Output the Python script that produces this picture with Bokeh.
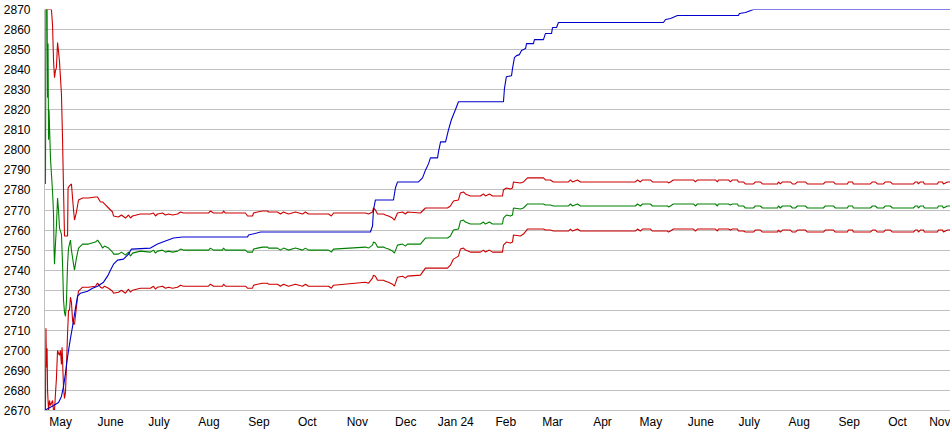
import pandas as pd
from bokeh.plotting import figure
from bokeh.models import FixedTicker, Range1d
from bokeh.embed import file_html
from bokeh.resources import INLINE

# ---------------- data (x = days since 2023-04-21) ----------------
START = "2023-04-21"
X_END_DAYS = 561.8

month_ticks = ["2023-05-01", "2023-06-01", "2023-07-01", "2023-08-01", "2023-09-01",
               "2023-10-01", "2023-11-01", "2023-12-01", "2024-01-01", "2024-02-01",
               "2024-03-01", "2024-04-01", "2024-05-01", "2024-06-01", "2024-07-01",
               "2024-08-01", "2024-09-01", "2024-10-01", "2024-11-01"]
month_labels = ["May", "June", "July", "Aug", "Sep", "Oct", "Nov", "Dec", "Jan 24", "Feb",
                "Mar", "Apr", "May", "June", "July", "Aug", "Sep", "Oct", "Nov"]
y_ticks = [2670, 2680, 2690, 2700, 2710, 2720, 2730, 2740, 2750, 2760, 2770,
           2780, 2790, 2800, 2810, 2820, 2830, 2840, 2850, 2860, 2870]

# rating (blue)
rating_days = [0, 5.6, 8.7, 10.5, 11.8, 13.0, 14.0, 14.9, 16.1, 17.4,
               19.2, 20.5, 22.3, 26.7, 29.8, 32.9, 36.6, 39.1, 40.9, 42.8,
               45.3, 49.0, 52.1, 53.9, 65.7, 70.1, 75.0, 80.0, 85.6, 125.9,
               126.5, 134.0, 202.1, 203.4, 204.0, 205.2, 216.4, 217.6, 218.9, 231.9,
               234.4, 236.3, 238.1, 239.3, 243.7, 244.3, 245.6, 248.7, 250.5, 252.3,
               254.8, 256.7, 284.6, 285.2, 286.4, 289.6, 290.2, 291.4, 292.7, 294.5,
               295.8, 298.3, 298.9, 303.2, 303.8, 309.4, 310.6, 314.4, 315.0, 317.5,
               318.7, 383.8, 385.1, 388.2, 392.5, 430.3, 430.9, 434.7, 439.6, 561.8]
rating_vals = [2670, 2672.5, 2674, 2677, 2682, 2688.5, 2695, 2700, 2706, 2712,
               2721, 2727, 2728.5, 2729.5, 2731, 2732, 2734, 2737, 2740, 2743,
               2745, 2745.5, 2748, 2750.5, 2751, 2753, 2754.5, 2756, 2756.5, 2756.5,
               2757.5, 2759, 2759, 2762, 2770, 2775, 2775, 2781, 2784, 2784,
               2786, 2790, 2793, 2796, 2796, 2799, 2804, 2804, 2810, 2815,
               2820, 2824, 2824, 2830.5, 2836.5, 2837, 2840.5, 2846, 2847, 2847.5,
               2849.5, 2850.5, 2853, 2853, 2855, 2855, 2858, 2858, 2861, 2861,
               2863.5, 2863.5, 2865, 2865.5, 2867, 2867, 2868, 2868.5, 2870, 2870]

# first weeks (each series separately)
early_upper_days = [0.6, 4.3, 5.0, 5.6, 6.2, 6.8, 7.4, 8.1, 8.7, 9.3,
                    9.9, 10.5, 11.2, 11.8, 12.4, 14.3, 14.6, 15.5, 16.7, 17.4,
                    18.0, 18.6, 19.8]
early_upper_vals = [2870, 2870, 2862, 2844.5, 2836, 2839.5, 2841, 2853.5, 2849, 2844,
                    2836, 2828, 2805, 2780, 2757, 2757, 2781, 2782, 2783, 2776,
                    2770, 2765, 2769]

early_mid_days = [0.6, 0.9, 1.6, 1.9, 2.2, 2.5, 2.8, 3.7, 4.3, 5.0,
                  5.6, 5.9, 6.2, 6.8, 7.4, 8.1, 8.7, 9.3, 10.5, 11.2,
                  11.8, 12.4, 13.0, 13.6, 14.3, 14.9, 16.1, 16.7, 18.0, 18.6,
                  19.8]
early_mid_vals = [2783, 2870, 2870, 2826, 2853, 2805, 2820, 2796, 2788, 2779,
                  2768, 2751, 2743, 2753, 2762, 2776, 2770, 2761, 2758, 2743,
                  2725, 2719, 2717, 2724, 2743, 2751, 2755, 2750, 2743, 2740,
                  2746]

early_lower_days = [0.6, 0.9, 1.2, 1.6, 1.9, 2.5, 3.1, 3.7, 5.0, 5.6,
                    6.2, 6.8, 7.4, 8.1, 8.7, 9.3, 9.9, 10.5, 10.9, 11.8,
                    12.4, 13.0, 13.6, 14.3, 14.9, 15.5, 16.1, 16.7, 17.4, 18.0,
                    18.6, 19.8, 20.5]
early_lower_vals = [2670, 2711, 2691.5, 2701, 2680, 2670, 2675, 2672.5, 2675, 2670,
                    2670, 2678.5, 2686, 2700, 2698.5, 2697.5, 2700, 2693, 2701.5, 2681.5,
                    2676, 2679, 2691.5, 2708.5, 2720, 2720, 2726.5, 2724, 2715, 2713,
                    2713, 2721.5, 2726.5]

# later part (common sampling for the three band series)
late_days = [21.1, 23.6, 27.3, 31.6, 32.9, 34.7, 36.0, 37.2, 39.7, 42.2,
             42.8, 45.9, 47.7, 50.2, 52.1, 53.3, 54.6, 59.5, 65.7, 67.6,
             68.8, 70.1, 73.2, 75.0, 76.9, 79.4, 82.5, 84.3, 86.2, 101.7,
             102.9, 104.8, 110.4, 111.0, 112.2, 124.6, 125.9, 129.0, 129.6, 132.1,
             135.2, 138.3, 138.9, 144.5, 146.3, 148.2, 151.3, 155.6, 160.0, 161.8,
             163.7, 176.1, 177.9, 179.2, 199.0, 200.9, 203.4, 204.0, 205.2, 206.5,
             210.2, 211.4, 213.3, 215.8, 217.0, 218.9, 222.0, 223.8, 225.1, 233.1,
             236.2, 249.9, 251.7, 253.6, 256.7, 257.9, 259.8, 261.0, 264.1, 270.3,
             272.2, 273.4, 275.9, 277.8, 284.0, 284.6, 286.4, 288.9, 290.2, 290.8,
             295.1, 297.0, 299.5, 309.4, 310.6, 313.7, 315.6, 324.9, 326.1, 327.4,
             330.5, 332.3, 366.4, 367.7, 369.5, 370.8, 375.7, 377.0, 386.3, 386.9,
             388.1, 390.0, 402.4, 403.6, 404.9, 416.0, 417.3, 417.9, 424.1, 425.3,
             426.6, 429.7, 430.3, 433.4, 434.6, 439.6, 440.8, 443.9, 445.2, 454.5,
             455.1, 456.3, 457.6, 462.5, 463.8, 465.6, 466.9, 471.8, 473.1, 483.0,
             484.2, 489.2, 490.4, 497.9, 498.5, 501.0, 501.6, 512.1, 513.4, 515.2,
             516.5, 520.2, 521.4, 524.5, 525.8, 538.8, 540.0, 541.3, 541.9, 543.1,
             545.0, 545.6, 553.7, 554.3, 556.8, 557.4, 559.9, 561.8]
late_mid_vals = [2751, 2753, 2753, 2754, 2755, 2753, 2751, 2752, 2751, 2749,
                 2748, 2748, 2749, 2747.5, 2749, 2747, 2748.5, 2749.5, 2749, 2750,
                 2748.5, 2749.5, 2750, 2749, 2749.5, 2749, 2749.5, 2750.5, 2750, 2750,
                 2751, 2750, 2750, 2751, 2750, 2750, 2749, 2749, 2750.5, 2751,
                 2751.5, 2751.5, 2751, 2751, 2750, 2751, 2750, 2751, 2750, 2751,
                 2750, 2750, 2749, 2750.5, 2751.5, 2751, 2752.5, 2754, 2753.5, 2751.5,
                 2751.5, 2751, 2750.5, 2749.5, 2748.5, 2752.5, 2753, 2752, 2753, 2753,
                 2756, 2756, 2757, 2760, 2760.5, 2764.5, 2765, 2764, 2763, 2763,
                 2764, 2763, 2764, 2763, 2763, 2766, 2767.5, 2767, 2767.5, 2771,
                 2770.5, 2771, 2773, 2773, 2772.5, 2772.5, 2772, 2772, 2773, 2772,
                 2773, 2772, 2772, 2773, 2772, 2773, 2773, 2772, 2772, 2771.5,
                 2772, 2773, 2773, 2772, 2773, 2773, 2772, 2773, 2773, 2772.5,
                 2773, 2773, 2772, 2772, 2771, 2771, 2772, 2772, 2771, 2771,
                 2772, 2771, 2772, 2772, 2771, 2771, 2772, 2772, 2771, 2771,
                 2772, 2772, 2771, 2771, 2772, 2772, 2771, 2771, 2772, 2772,
                 2771, 2771, 2772, 2772, 2771, 2771, 2772, 2772, 2771, 2772,
                 2772, 2771, 2771, 2772, 2772, 2771, 2772, 2772]
late_upper_vals = [2775, 2776, 2776, 2776.5, 2776.5, 2774, 2774, 2773, 2771, 2769,
                   2767, 2766.5, 2767.5, 2766, 2767.5, 2766, 2767, 2768, 2768, 2768.5,
                   2767, 2768, 2768.5, 2767.5, 2768, 2767.5, 2768, 2769, 2768.5, 2768.5,
                   2769.5, 2768.5, 2768.5, 2769.5, 2768.5, 2768.5, 2767, 2767, 2768.5, 2769,
                   2769.5, 2769.5, 2769, 2769, 2768, 2769, 2768, 2769, 2768, 2769,
                   2768, 2768, 2767, 2768.5, 2768.5, 2768, 2769, 2771, 2770, 2768,
                   2768, 2767.5, 2767, 2766, 2765, 2768.5, 2769, 2768, 2769, 2768.5,
                   2771, 2771, 2772, 2774.5, 2775, 2778.5, 2779, 2778, 2777, 2777,
                   2778, 2777, 2778, 2777, 2777, 2780, 2781, 2780.5, 2781, 2784,
                   2783.5, 2784, 2786, 2786, 2785, 2785, 2784, 2784, 2785, 2784,
                   2785, 2784, 2784, 2785, 2784, 2785, 2785, 2784, 2784, 2783.5,
                   2784, 2785, 2785, 2784, 2785, 2785, 2784, 2785, 2785, 2784,
                   2785, 2785, 2784, 2784, 2783, 2783, 2784, 2784, 2783, 2783,
                   2784, 2783, 2784, 2784, 2783, 2783, 2784, 2784, 2783, 2783,
                   2784, 2784, 2783, 2783, 2784, 2784, 2783, 2783, 2784, 2784,
                   2783, 2783, 2784, 2784, 2783, 2783, 2784, 2784, 2783, 2784,
                   2784, 2783, 2783, 2784, 2784, 2783, 2784, 2784]
late_lower_vals = [2729.5, 2731.5, 2731.5, 2732, 2733.5, 2731.5, 2731, 2732, 2731, 2729.5,
                   2728.5, 2729, 2730, 2728.5, 2730.5, 2729, 2730, 2731, 2731, 2732,
                   2730.5, 2731.5, 2732, 2731, 2731.5, 2731, 2731.5, 2732.5, 2732, 2732,
                   2733, 2732, 2732, 2733, 2732, 2732, 2731, 2731, 2732.5, 2733,
                   2733.5, 2733.5, 2733, 2733, 2732, 2733, 2732, 2733, 2732, 2733,
                   2732, 2732, 2731, 2732.5, 2734, 2733.5, 2736, 2737.5, 2737, 2735,
                   2735, 2734.5, 2734, 2733, 2732, 2736.5, 2737, 2736, 2737, 2737.5,
                   2741, 2741, 2742.5, 2745.5, 2747, 2750.5, 2751, 2750, 2749, 2749,
                   2750, 2749, 2750, 2749, 2749, 2752.5, 2754, 2753.5, 2754, 2757.5,
                   2757, 2758, 2760.5, 2760.5, 2760, 2760, 2759.5, 2759.5, 2760.5, 2759.5,
                   2760.5, 2759.5, 2759.5, 2760.5, 2759.5, 2760.5, 2760.5, 2759.5, 2759.5, 2759,
                   2759.5, 2760.5, 2760.5, 2759.5, 2760.5, 2760.5, 2759.5, 2760.5, 2760.5, 2760,
                   2760.5, 2760.5, 2759.5, 2759.5, 2759, 2759, 2760, 2760, 2759, 2759,
                   2760, 2759, 2760, 2760, 2759, 2759, 2760, 2760, 2759, 2759,
                   2760, 2760, 2759, 2759, 2760, 2760, 2759, 2759, 2760, 2760,
                   2759, 2759, 2760, 2760, 2759, 2759, 2760, 2760, 2759, 2760,
                   2760, 2759, 2759, 2760, 2760, 2759, 2760, 2760]


def to_time(days):
    return (pd.Timestamp(START) + pd.to_timedelta(list(days), unit="D")).to_numpy()


def ms(date_str):
    return int(pd.Timestamp(date_str).value // 10**6)


GRID = "#c0c0c0"
RED = "#cc0000"
GREEN = "#008000"
BLUE = "#0000cc"
FONT = "Liberation Sans"

p = figure(width=950, height=435, x_axis_type="datetime",
           output_backend="svg", toolbar_location=None,
           x_range=Range1d(pd.Timestamp(START), pd.Timestamp(START) + pd.Timedelta(days=X_END_DAYS)),
           y_range=Range1d(y_ticks[0], y_ticks[-1]),
           min_border_left=44, min_border_right=0, min_border_top=9, min_border_bottom=25)

p.background_fill_color = "white"
p.border_fill_color = "white"
p.outline_line_color = None

tick_ms = [ms(d) for d in month_ticks]
p.xaxis.ticker = FixedTicker(ticks=tick_ms)
p.xaxis.major_label_overrides = {t: lab for t, lab in zip(tick_ms, month_labels)}
p.yaxis.ticker = FixedTicker(ticks=y_ticks)
p.xgrid.visible = False
p.ygrid.grid_line_color = GRID
p.ygrid.grid_line_width = 1

for ax in (p.xaxis, p.yaxis):
    ax.axis_line_color = GRID
    ax.major_tick_line_color = None
    ax.minor_tick_line_color = None
    ax.major_tick_out = 0
    ax.major_tick_in = 0
    ax.minor_tick_out = 0
    ax.minor_tick_in = 0
    ax.major_label_text_font = FONT
    ax.major_label_text_font_size = "12px"
    ax.major_label_text_color = "#000000"
p.yaxis.major_label_standoff = 14
p.xaxis.major_label_standoff = 4

up_x = to_time(early_upper_days + late_days)
mid_x = to_time(early_mid_days + late_days)
lo_x = to_time(early_lower_days + late_days)

p.line(up_x, early_upper_vals + late_upper_vals, line_color=RED, line_width=1.1)
p.line(lo_x, early_lower_vals + late_lower_vals, line_color=RED, line_width=1.1)
p.line(mid_x, early_mid_vals + late_mid_vals, line_color=GREEN, line_width=1.1)
p.line(to_time(rating_days), rating_vals, line_color=BLUE, line_width=1.1)

open("out.html", "w").write(file_html(p, INLINE))
